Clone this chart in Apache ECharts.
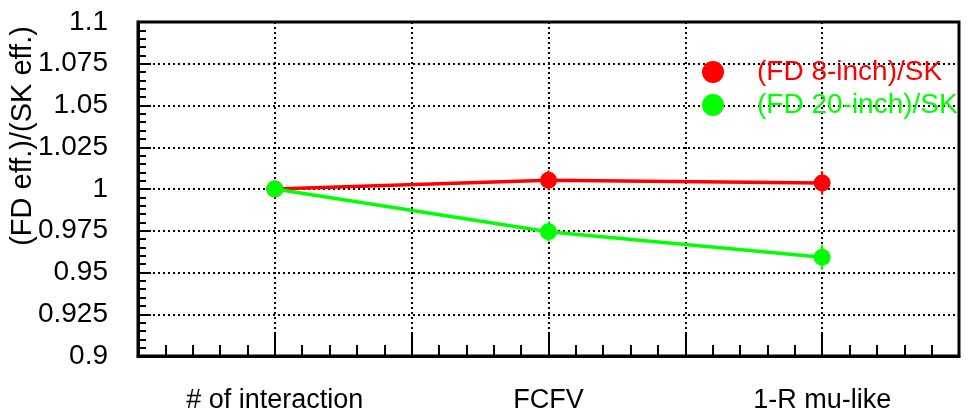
<!DOCTYPE html>
<html>
<head>
<meta charset="utf-8">
<script src="https://cdn.jsdelivr.net/npm/echarts@6/dist/echarts.min.js"></script>
<style>
html,body{margin:0;padding:0;background:#fff;}
#chart{width:969px;height:412px;}
</style>
</head>
<body>
<div id="chart"></div>
<script>
var categories = ['# of interaction', 'FCFV', '1-R mu-like'];
var xPositions = [1, 2, 3];
var redName = '(FD 8-inch)/SK';
var greenName = '(FD 20-inch)/SK';
var redValues = [1.0, 1.0052, 1.0036];
var redErrors = [0, 0.006, 0.007];
var greenValues = [1.0, 0.9744, 0.9591];
var greenErrors = [0, 0.006, 0.0075];
var yTickLabels = ['0.9', '0.925', '0.95', '0.975', '1', '1.025', '1.05', '1.075', '1.1'];

var FONT = '"Liberation Sans", Arial, Helvetica, sans-serif';
var RED = '#ff0000', GREEN = '#00ff00';

function pts(vals) { return xPositions.map(function (x, i) { return [x, vals[i]]; }); }
function errs(vals, e) { return xPositions.map(function (x, i) { return [x, vals[i], e[i]]; }); }
function errRender(color) {
  return function (params, api) {
    var e = api.value(2);
    if (!e) return null;
    var x = api.value(0), v = api.value(1);
    var p1 = api.coord([x, v - e]), p2 = api.coord([x, v + e]);
    return { type: 'line', shape: { x1: p1[0], y1: p1[1], x2: p2[0], y2: p2[1] },
             style: { stroke: color, lineWidth: 2 } };
  };
}

var chart = echarts.init(document.getElementById('chart'), null, { renderer: 'canvas' });
var dotted = { color: '#000', width: 2, type: [2, 3] };
chart.setOption({
  animation: false,
  backgroundColor: '#fff',
  textStyle: { fontFamily: FONT },
  grid: { left: 138, right: 10, top: 22, bottom: 56, outerBoundsMode: 'none', containLabel: false,
          show: true, borderColor: '#000', borderWidth: 3, backgroundColor: 'transparent' },
  legend: {
    orient: 'vertical', left: 702, top: 58, padding: 0, itemWidth: 22, itemHeight: 22, itemGap: 5,
    icon: 'circle',
    textStyle: { fontSize: 28, fontFamily: FONT, padding: [0, 0, 0, 28] },
    data: [
      { name: redName, textStyle: { color: RED } },
      { name: greenName, textStyle: { color: GREEN } }
    ]
  },
  xAxis: {
    type: 'value', min: 0.5, max: 3.5, interval: 0.5,
    axisLine: { show: true, lineStyle: { color: '#000', width: 3 } },
    axisTick: { show: true, inside: true, length: 22, lineStyle: { color: '#000', width: 2 } },
    minorTick: { show: true, splitNumber: 5, length: 11, lineStyle: { color: '#000', width: 2 } },
    splitLine: { show: true, lineStyle: dotted },
    axisLabel: {
      margin: 31, fontSize: 27, color: '#000', fontFamily: FONT,
      showMinLabel: true, showMaxLabel: true,
      formatter: function (v) {
        var i = xPositions.indexOf(Math.round(v * 1000) / 1000);
        return i >= 0 ? categories[i] : '';
      }
    }
  },
  yAxis: {
    type: 'value', min: 0.9, max: 1.1, interval: 0.025,
    name: '(FD eff.)/(SK eff.)', nameLocation: 'middle', nameGap: 101, nameMoveOverlap: false,
    nameTextStyle: { fontSize: 29, color: '#000', fontFamily: FONT, padding: [0, 0, 0, 106] },
    axisLine: { show: true, lineStyle: { color: '#000', width: 3 } },
    axisTick: { show: true, inside: true, length: 13, lineStyle: { color: '#000', width: 2 } },
    minorTick: { show: true, splitNumber: 5, length: 8, lineStyle: { color: '#000', width: 2 } },
    splitLine: { show: true, lineStyle: dotted },
    axisLabel: {
      margin: 30, fontSize: 28, color: '#000', fontFamily: FONT,
      formatter: function (v) {
        var i = Math.round((v - 0.9) / 0.025);
        return yTickLabels[i] !== undefined ? yTickLabels[i] : '';
      }
    }
  },
  series: [
    { type: 'custom', name: redName + ' err', data: errs(redValues, redErrors), renderItem: errRender(RED), z: 3, silent: true },
    { type: 'line', name: redName, data: pts(redValues), color: RED, symbol: 'circle', symbolSize: 17,
      lineStyle: { color: RED, width: 3.5 }, itemStyle: { color: RED }, z: 4 },
    { type: 'custom', name: greenName + ' err', data: errs(greenValues, greenErrors), renderItem: errRender(GREEN), z: 5, silent: true },
    { type: 'line', name: greenName, data: pts(greenValues), color: GREEN, symbol: 'circle', symbolSize: 17,
      lineStyle: { color: GREEN, width: 3.5 }, itemStyle: { color: GREEN }, z: 6 }
  ]
});
</script>
</body>
</html>
